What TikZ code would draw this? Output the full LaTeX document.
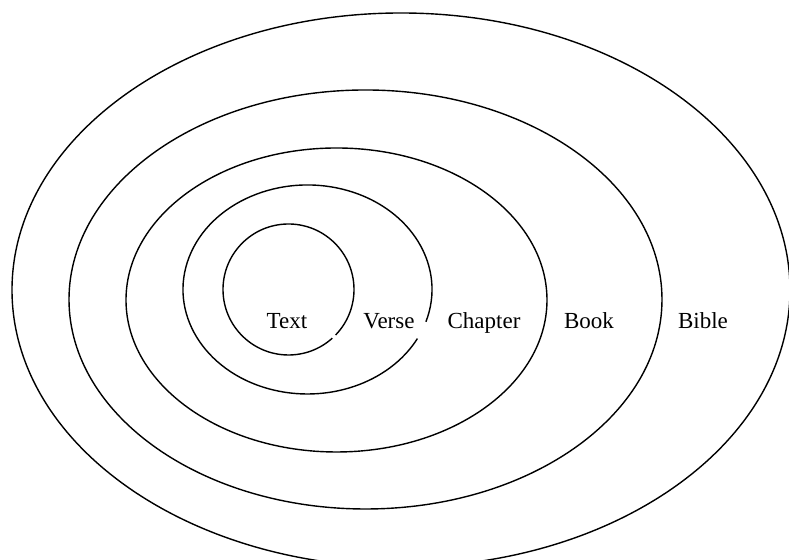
\documentclass[tikz,border=0pt]{standalone}
\usepackage{fontspec}
\setmainfont{Liberation Serif}
\usepackage{tikz}
\usetikzlibrary{calc}

\begin{document}
\begin{tikzpicture}[
  x=0.5pt, y=0.5pt,
  ring/.style={line width=0.7pt},
  setlabel/.style={anchor=base, font=\fontsize{11.5}{14}\selectfont}
]
\useasboundingbox (0,0) rectangle (789,560);

% --- Ring helper: centre x, centre y, x radius, y radius, start, end ---
\newcommand{\SetRing}[6]{%
  \draw[ring] ([shift={(#5:#3 and #4)}]#1,#2)
    arc[start angle=#5, end angle=#6, x radius=#3, y radius=#4];
}

% --- Rings, outermost first ---
\SetRing{401}{270}{389}{277}{0}{360}
\SetRing{365.5}{260.5}{296.5}{209.5}{0}{360}
\SetRing{336.5}{260}{210.5}{152}{0}{360}
\SetRing{307.5}{270.5}{124.5}{104.5}{-18}{332}
\SetRing{288.5}{270.5}{65.5}{65.5}{-44}{312}

% --- Labels ---
\node[setlabel] (text)    at (287,231) {Text};
\node[setlabel] (verse)   at (389,231) {Verse};
\node[setlabel] (chapter) at (484,231) {Chapter};
\node[setlabel] (book)    at (589,231) {Book};
\node[setlabel] (bible)   at (703,231) {Bible};

\end{tikzpicture}
\end{document}
